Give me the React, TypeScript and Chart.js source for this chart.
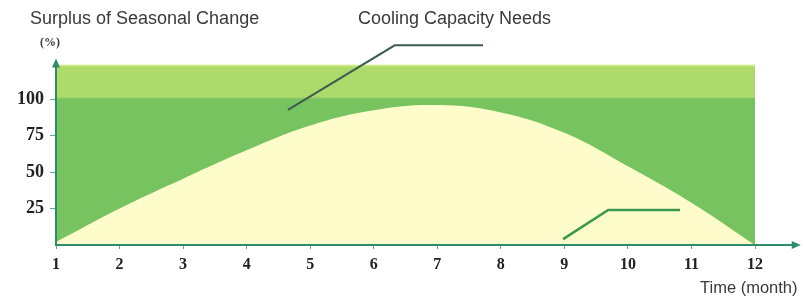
import React, { useEffect, useRef } from "react";
import { Chart, registerables } from "chart.js";
Chart.register(...registerables);

const months = [1, 2, 3, 4, 5, 6, 7, 8, 9, 10, 11, 12];
const surplus = [2, 25, 45.5, 65, 82, 92.5, 96, 91, 77, 54, 29, 0];
const capacityLevel = [101, 101, 101, 101, 101, 101, 101, 101, 101, 101, 101, 101];
const bandTop = [123, 123, 123, 123, 123, 123, 123, 123, 123, 123, 123, 123];
const yTicks = [25, 50, 75, 100];
const xTicks = months;
const needsLeaderX = [4.65, 6.33, 7.72];
const needsLeaderY = [92.7, 137, 137];
const surplusLeaderX = [8.98, 9.69, 10.82];
const surplusLeaderY = [4, 24, 24];
const yTitle = "Surplus of Seasonal Change";
const yUnit = "(%)";
const xTitle = "Time (month)";
const needsLabel = "Cooling Capacity Needs";

const AXIS = "#2d8c6c";

const decor = {
  id: "decor",
  afterDatasetsDraw(chart: any) {
    const { ctx, scales } = chart;
    const xs = scales.x;
    const ys = scales.y;
    const x0 = xs.getPixelForValue(1);
    const y0 = ys.getPixelForValue(0);
    const yTop = ys.getPixelForValue(128);
    const xEnd = xs.getPixelForValue(12.72);
    ctx.save();
    ctx.strokeStyle = AXIS;
    ctx.fillStyle = AXIS;
    ctx.lineWidth = 2;
    ctx.beginPath();
    ctx.moveTo(x0, y0 + 1);
    ctx.lineTo(x0, yTop + 6);
    ctx.moveTo(x0 - 1, y0);
    ctx.lineTo(xEnd - 6, y0);
    ctx.stroke();
    ctx.beginPath();
    ctx.moveTo(x0, yTop);
    ctx.lineTo(x0 - 4, yTop + 9);
    ctx.lineTo(x0 + 4, yTop + 9);
    ctx.closePath();
    ctx.fill();
    ctx.beginPath();
    ctx.moveTo(xEnd, y0);
    ctx.lineTo(xEnd - 9, y0 - 4);
    ctx.lineTo(xEnd - 9, y0 + 4);
    ctx.closePath();
    ctx.fill();

    ctx.fillStyle = "#3a3a3a";
    ctx.textBaseline = "middle";
    ctx.textAlign = "left";
    ctx.font = "18px 'Liberation Sans', Arial, sans-serif";
    ctx.fillText(yTitle, 30, 19);
    ctx.fillText(needsLabel, 358, 19);
    ctx.font = "16.5px 'Liberation Sans', Arial, sans-serif";
    ctx.fillText(xTitle, 700, 288);
    ctx.font = "bold 12px 'Liberation Serif', serif";
    ctx.fillText(yUnit, 40, 43);
    ctx.restore();
  },
};

export default function App() {
  const ref = useRef<HTMLCanvasElement | null>(null);
  useEffect(() => {
    if (!ref.current) return;
    const pts = (xa: number[], ya: number[]) => xa.map((x, i) => ({ x, y: ya[i] }));
    const chart = new Chart(ref.current, {
      type: "line",
      data: {
        datasets: [
          {
            data: pts(needsLeaderX, needsLeaderY),
            borderColor: "#3d5d4e",
            borderWidth: 2,
            pointRadius: 0,
            fill: false,
            tension: 0,
          },
          {
            data: pts(surplusLeaderX, surplusLeaderY),
            borderColor: "#3a9850",
            borderWidth: 2.5,
            pointRadius: 0,
            fill: false,
            tension: 0,
          },
          {
            data: pts(months, surplus),
            borderColor: "rgba(0,0,0,0)",
            borderWidth: 0,
            backgroundColor: "#fffccb",
            pointRadius: 0,
            fill: "origin",
            tension: 0.4,
          },
          {
            data: pts(months, capacityLevel),
            borderColor: "#98d268",
            borderWidth: 1.5,
            backgroundColor: "#77c35f",
            pointRadius: 0,
            fill: "origin",
          },
          {
            data: pts(months, bandTop),
            borderColor: "#c6ea7e",
            borderWidth: 2,
            backgroundColor: "#aed96b",
            pointRadius: 0,
            fill: 3,
          },
        ],
      },
      options: {
        animation: false,
        responsive: false,
        events: [],
        layout: { padding: { top: 41, right: 49, left: 0, bottom: 0 } },
        plugins: { legend: { display: false }, tooltip: { enabled: false } },
        scales: {
          x: {
            type: "linear",
            min: 1,
            max: 12,
            afterBuildTicks: (s: any) => {
              s.ticks = xTicks.map((v) => ({ value: v }));
            },
            afterFit: (s: any) => {
              s.height = 53;
            },
            border: { display: false },
            grid: { drawOnChartArea: false, tickLength: 4, color: "#6aa68c" },
            ticks: {
              autoSkip: false,
              maxRotation: 0,
              padding: 6,
              color: "#222",
              font: { family: "'Liberation Serif', serif", size: 16, weight: "bold" },
            },
          },
          y: {
            min: 0,
            max: 140,
            afterBuildTicks: (s: any) => {
              s.ticks = yTicks.map((v) => ({ value: v }));
            },
            afterFit: (s: any) => {
              s.width = 56;
            },
            border: { display: false },
            grid: { drawOnChartArea: false, tickLength: 6, color: "#6aa68c" },
            ticks: {
              padding: 6,
              color: "#222",
              font: { family: "'Liberation Serif', serif", size: 18, weight: "bold" },
            },
          },
        },
      },
      plugins: [decor],
    });
    return () => chart.destroy();
  }, []);
  return (
    <div style={{ position: "absolute", left: 0, top: 0, width: 804, height: 298 }}>
      <canvas ref={ref} width={804} height={298} style={{ display: "block" }} />
    </div>
  );
}
